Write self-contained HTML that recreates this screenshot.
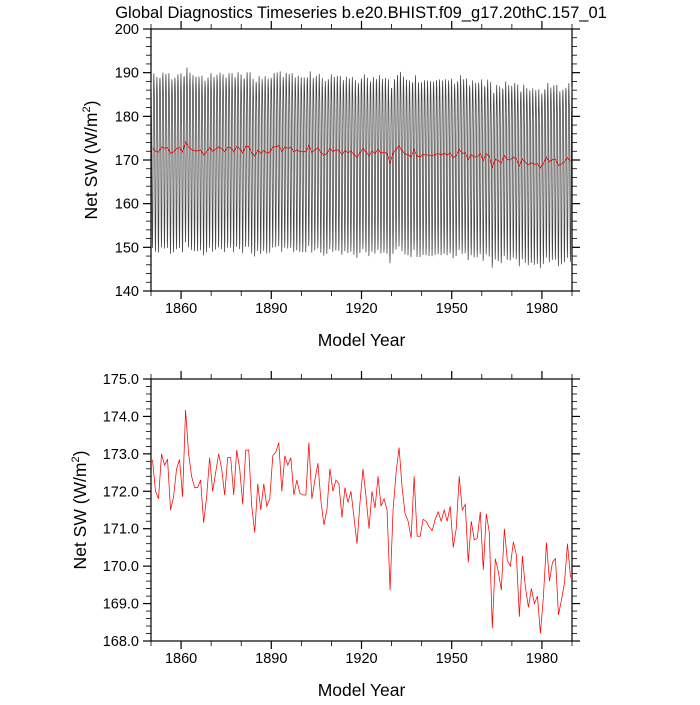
<!DOCTYPE html>
<html><head><meta charset="utf-8"><style>
body{margin:0;background:#fff;}
svg text{font-family:"Liberation Sans",sans-serif;fill:#000;}
</style></head><body>
<svg id="c" width="700" height="700" viewBox="0 0 700 700">
<text x="361" y="18" font-size="16.5" text-anchor="middle">Global Diagnostics Timeseries b.e20.BHIST.f09_g17.20thC.157_01</text>
<g id="top"></g>
<g id="bot"></g>
</svg>
<script>
const annualYears0 = 1850;
const annualValues = [172.84,172.0,171.8,173.0,172.7,172.85,171.5,171.85,172.6,172.85,
171.85,174.17,173.0,172.4,172.1,172.1,172.3,171.16,171.85,172.9,
172.0,172.5,173.0,172.6,171.9,172.9,172.9,171.9,173.1,172.6,
171.65,173.1,173.1,171.6,170.9,172.2,171.5,172.2,171.6,171.8,
172.95,173.05,173.3,172.0,172.95,172.7,172.9,171.9,172.3,171.95,
171.9,171.9,173.3,171.8,172.3,172.75,171.75,171.1,171.5,172.6,
172.0,172.3,172.2,171.3,172.1,171.7,172.0,171.3,170.6,171.7,
172.6,171.85,171.0,172.0,171.55,172.4,171.6,171.8,171.5,169.36,
171.5,172.5,173.17,172.1,171.4,171.2,170.75,172.4,170.8,170.8,
171.25,171.2,171.05,170.95,171.25,171.45,171.2,171.5,171.2,171.6,
170.5,171.0,172.4,171.5,171.65,170.1,171.2,170.7,170.75,171.45,
169.9,171.4,170.9,168.34,170.2,169.85,169.36,171.0,170.15,170.0,
170.65,170.3,168.65,170.27,169.45,168.9,169.4,169.0,169.2,168.2,
169.2,170.63,169.6,170.1,170.2,168.7,169.1,169.55,170.6,169.7];
const seasonalAnomaly = [15,12,5,-7,-18,-23,-21,-13,-1,9,15,17];
const xTicks = [1860,1890,1920,1950,1980];
const topYTicks = [140,150,160,170,180,190,200];
const botYTicks = ["168.0","169.0","170.0","171.0","172.0","173.0","174.0","175.0"];

const NS="http://www.w3.org/2000/svg";
function mk(parent,tag,attrs){const e=document.createElementNS(NS,tag);for(const k in attrs)e.setAttribute(k,attrs[k]);parent.appendChild(e);return e;}
const X0=151,X1=572,XMIN=1850,XMAX=1990;
const xs=v=>X0+(v-XMIN)/(XMAX-XMIN)*(X1-X0);

function panel(g,top,bot,ymin,ymax,yMajor,yMinor,labels,fmt,name){
  const ys=v=>bot-(v-ymin)/(ymax-ymin)*(bot-top);
  const fr=mk(g,'rect',{x:X0,y:top,width:X1-X0,height:bot-top,fill:'none',stroke:'#000','stroke-width':1.2});
  
  
  for(let t=1850;t<=1990;t+=10){
    const maj=((t-1860)%30===0);const L=maj?8:5;const x=xs(t);
    const a=mk(g,'line',{x1:x,x2:x,y1:bot,y2:bot+L,stroke:'#000','stroke-width':maj?1.2:0.8});
    
    
    const b=mk(g,'line',{x1:x,x2:x,y1:top,y2:top-L,stroke:'#000','stroke-width':maj?1.2:0.8});
    
    
  }
  xTicks.forEach(t=>{const tx=mk(g,'text',{x:xs(t),y:bot+22,'font-size':14.5,'text-anchor':'middle'});tx.textContent=t;
    
    });
  const n=Math.round((ymax-ymin)/yMinor);
  for(let i=0;i<=n;i++){const v=ymin+i*yMinor;const maj=Math.abs(v/yMajor-Math.round(v/yMajor))<1e-6;const L=maj?8:5;const y=ys(v);
    const a=mk(g,'line',{x1:X0,x2:X0-L,y1:y,y2:y,stroke:'#000','stroke-width':maj?1.2:0.8});
    
    
    const b=mk(g,'line',{x1:X1,x2:X1+L,y1:y,y2:y,stroke:'#000','stroke-width':maj?1.2:0.8});
    
    }
  labels.forEach(l=>{const v=parseFloat(l);const tx=mk(g,'text',{x:X0-12,y:ys(v)+5,'font-size':14.5,'text-anchor':'end'});tx.textContent=fmt(l);
    
    });
  const xt=mk(g,'text',{x:(X0+X1)/2,y:bot+55,'font-size':17.5,'text-anchor':'middle'});xt.textContent='Model Year';
  
  
  const cy=(top+bot)/2;const yt=mk(g,'text',{x:0,y:0,'font-size':17.5,'text-anchor':'middle',transform:`translate(${name==='top'?97:86},${cy}) rotate(-90)`});
  yt.innerHTML='Net SW (W/m<tspan font-size="11" dy="-7">2</tspan><tspan dy="7">)</tspan>';
  
  
  return ys;
}
const tg=document.getElementById('top'),bg=document.getElementById('bot');
const ysT=panel(tg,29,291,140,200,10,2,topYTicks.map(String),l=>l,'top');
const ysB=panel(bg,379,641,168,175,1,0.2,botYTicks,l=>l,'bot');

let d='';
annualValues.forEach((v,i)=>{seasonalAnomaly.forEach((a,m)=>{const t=annualYears0+i+(m+0.5)/12;d+=(d?'L':'M')+xs(t).toFixed(2)+','+ysT(v+a).toFixed(2);});});
const ml=mk(tg,'path',{d:d,fill:'none',stroke:'#444','stroke-width':0.75});


function annualPath(ys){return annualValues.map((v,i)=>(i?'L':'M')+xs(annualYears0+i+0.5).toFixed(2)+','+ys(v).toFixed(2)).join('');}
const al=mk(tg,'path',{d:annualPath(ysT),fill:'none',stroke:'#e00','stroke-width':0.8});


const bl=mk(bg,'path',{d:annualPath(ysB),fill:'none',stroke:'#f00','stroke-width':0.75});


</script>
</body></html>
